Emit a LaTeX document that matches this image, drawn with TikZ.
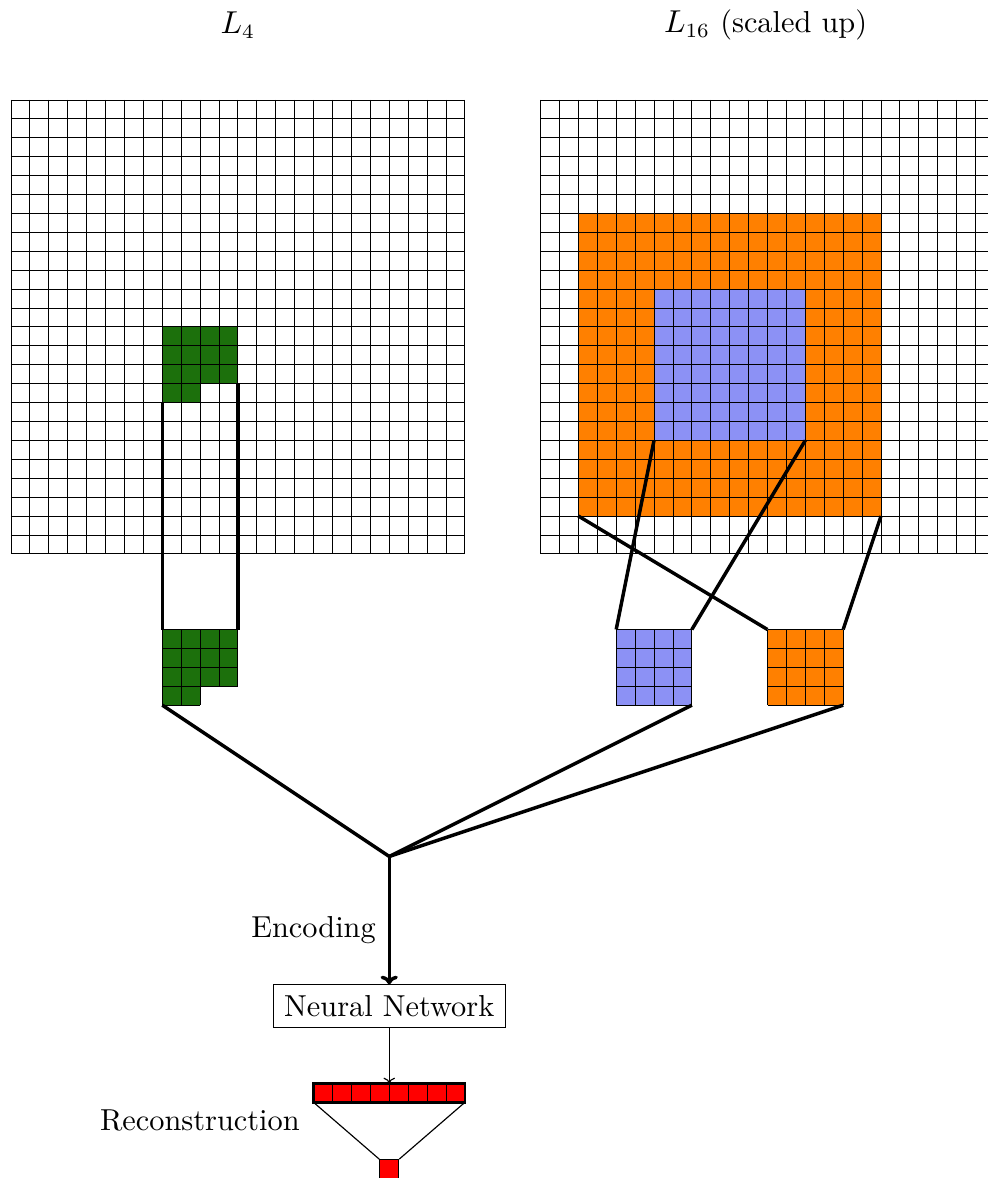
\documentclass[tikz,border=0pt]{standalone}
\usetikzlibrary{arrows.meta}
\definecolor{patchgreen}{RGB}{28,112,12}
\definecolor{patchblue}{RGB}{140,145,245}
\definecolor{patchorange}{RGB}{255,128,0}
\begin{document}
\begin{tikzpicture}[x=0.23cm,y=0.23cm,
  gridline/.style={line width=0.3pt},
  link/.style={line width=1.2pt},
  thinlink/.style={line width=0.4pt},
  label/.style={inner sep=0pt, font=\fontsize{10.5}{12.6}\selectfont},
  nnbox/.style={draw, line width=0.4pt, minimum width=2.82cm, minimum height=0.52cm, inner sep=0pt, font=\fontsize{10.5}{12.6}\selectfont}]
\useasboundingbox (-0.58,5.285) rectangle (51.64,-57);

% titles
\node[label] (t4) at (12,3.96) {$L_4$};
\node[label] (t16) at (39.9,3.96) {$L_{16}$ (scaled up)};

% fills in the big grids
\fill[patchgreen] (8,-12) rectangle (12,-15);
\fill[patchgreen] (8,-15) rectangle (10,-16);
\fill[patchorange] (30,-6) rectangle (46,-22);
\fill[patchblue] (34,-10) rectangle (42,-18);

% big grids
\foreach \i in {0,...,24} {
  \draw[gridline] (\i,0) -- (\i,-24);
  \draw[gridline] (0,-\i) -- (24,-\i);
  \draw[gridline] (28+\i,0) -- (28+\i,-24);
  \draw[gridline] (28,-\i) -- (52,-\i);
}

% extracted patches
\fill[patchgreen] (8,-28) rectangle (12,-31);
\fill[patchgreen] (8,-31) rectangle (10,-32);
\fill[patchblue] (32,-28) rectangle (36,-32);
\fill[patchorange] (40,-28) rectangle (44,-32);
\foreach \i in {0,...,4} {
  \draw[gridline] (32+\i,-28) -- (32+\i,-32);
  \draw[gridline] (32,-28-\i) -- (36,-28-\i);
  \draw[gridline] (40+\i,-28) -- (40+\i,-32);
  \draw[gridline] (40,-28-\i) -- (44,-28-\i);
}
\foreach \i in {0,...,3} {
  \draw[gridline] (8,-28-\i) -- (12,-28-\i);
}
\foreach \i in {0,1,2} {
  \draw[gridline] (8+\i,-28) -- (8+\i,-32);
}
\draw[gridline] (11,-28) -- (11,-31);
\draw[gridline] (12,-28) -- (12,-31);
\draw[gridline] (8,-32) -- (10,-32);

% named corners
\coordinate (gUL) at (8,-16);
\coordinate (gUR) at (12,-15);
\coordinate (gLL) at (8,-28);
\coordinate (gLR) at (12,-28);
\coordinate (gBot) at (8,-32);
\coordinate (bUL) at (34,-18);
\coordinate (bUR) at (42,-18);
\coordinate (oUL) at (30,-22);
\coordinate (oUR) at (46,-22);
\coordinate (pbL) at (32,-28);
\coordinate (pbR) at (36,-28);
\coordinate (pbBot) at (36,-32);
\coordinate (poL) at (40,-28);
\coordinate (poR) at (44,-28);
\coordinate (poBot) at (44,-32);
\coordinate (join) at (20,-40);

% connectors
\draw[link] (gUL) -- (gLL);
\draw[link] (gUR) -- (gLR);
\draw[link] (bUL) -- (pbL);
\draw[link] (bUR) -- (pbR);
\draw[link] (oUL) -- (poL);
\draw[link] (oUR) -- (poR);
\draw[link] (gBot) -- (join);
\draw[link] (pbBot) -- (join);
\draw[link] (poBot) -- (join);

% network
\node[nnbox] (nn) at (20,-47.92) {Neural Network};
\draw[link, -{To[length=3pt,width=6pt]}] (join) -- (nn.north);
\node[label] (enc) at (16,-43.9) {Encoding};

% reconstruction
\fill[red] (16,-53) rectangle (24,-52);
\foreach \i in {16,...,24} {
  \draw[gridline] (\i,-52) -- (\i,-53);
}
\draw[line width=0.8pt] (16,-53) rectangle (24,-52);
\coordinate (rTop) at (20,-52);
\coordinate (rBL) at (16,-53);
\coordinate (rBR) at (24,-53);
\node[draw, fill=red, line width=0.4pt, minimum size=0.23cm, inner sep=0pt, anchor=north] (out) at (20,-56) {};
\draw[thinlink, -{To[length=2pt,width=4pt]}] (nn.south) -- (rTop);
\draw[thinlink] (rBL) -- (out.north west);
\draw[thinlink] (rBR) -- (out.north east);
\node[label] (rec) at (9.99,-53.96) {Reconstruction};
\end{tikzpicture}
\end{document}
